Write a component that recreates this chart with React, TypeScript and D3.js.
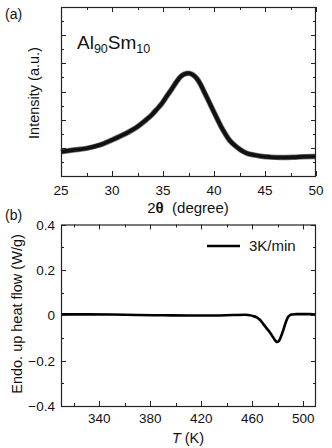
import React, { useRef, useEffect } from "react";
import * as d3 from "d3";

// (a) XRD pattern
const xrdAngle = [25, 26.2, 27.5, 28.8, 30, 31.2, 32.5, 33.2, 33.9, 34.4, 34.9, 35.4, 35.9, 36.3, 36.7, 37.1, 37.5, 37.9, 38.3, 38.7, 39.1, 39.5, 39.9, 40.3, 40.7, 41.1, 41.5, 42.0, 42.4, 42.8, 43.2, 44.0, 44.8, 45.6, 46.5, 48, 49.7, 50];
const xrdIntensity = [0.86, 0.92, 0.98, 1.1, 1.28, 1.48, 1.75, 1.95, 2.17, 2.37, 2.58, 2.85, 3.11, 3.33, 3.52, 3.62, 3.65, 3.6, 3.47, 3.24, 2.94, 2.64, 2.34, 2.04, 1.75, 1.5, 1.28, 1.1, 0.98, 0.88, 0.81, 0.74, 0.69, 0.67, 0.66, 0.67, 0.69, 0.69];
const xrdTicks = [25, 30, 35, 40, 45, 50];

// (b) DSC trace at 3 K/min
const dscTemp = [310, 330, 350, 370, 390, 410, 430, 445, 455, 458.2, 461, 463.5, 466, 468.7, 471.3, 473.3, 475.2, 477, 478.6, 479.5, 480.4, 481.8, 483, 484.3, 485.6, 486.9, 488.2, 489.5, 490.9, 495, 500, 505, 510];
const dscFlow = [0.004, 0.004, 0.003, 0.001, 0.0, -0.001, -0.001, 0.001, 0.002, 0.0, -0.004, -0.009, -0.02, -0.039, -0.058, -0.072, -0.087, -0.103, -0.115, -0.118, -0.116, -0.104, -0.087, -0.066, -0.043, -0.022, -0.007, 0.0, 0.003, 0.005, 0.005, 0.005, 0.003];
const dscXTicks = [340, 380, 420, 460, 500];
const dscYTicks = [0.4, 0.2, 0, -0.2, -0.4];
const legendLabel = "3K/min";

const W = 332;
const H = 448;
const FONT = "'Liberation Sans', Arial, sans-serif";

const App = () => {
  const svgRef = useRef<SVGSVGElement>(null);

  useEffect(() => {
    const svg = d3.select(svgRef.current);
    svg.selectAll("*").remove();
    svg.append("rect").attr("width", W).attr("height", H).attr("fill", "#fff");

    const frameLeft = 61;
    const frameRight = 316;

    // inward ticks on all four sides
    const drawTicks = (
      x: d3.ScaleLinear<number, number>,
      y: d3.ScaleLinear<number, number>,
      xMajor: number[],
      xMinor: number[],
      yMajor: number[],
      yMinor: number[]
    ) => {
      const [x0, x1] = x.range();
      const [y0, y1] = y.range();
      const g = svg.append("g").attr("stroke", "#222").attr("stroke-width", 1);
      xMajor.concat(xMinor).forEach((v) => {
        const len = xMajor.includes(v) ? 5 : 3;
        const px = Math.round(x(v)) + 0.5;
        g.append("line").attr("x1", px).attr("x2", px).attr("y1", y0).attr("y2", y0 - len);
        g.append("line").attr("x1", px).attr("x2", px).attr("y1", y1).attr("y2", y1 + len);
      });
      yMajor.concat(yMinor).forEach((v) => {
        const len = yMajor.includes(v) ? 5 : 3;
        const py = Math.round(y(v)) + 0.5;
        g.append("line").attr("x1", x0).attr("x2", x0 + len).attr("y1", py).attr("y2", py);
        g.append("line").attr("x1", x1).attr("x2", x1 - len).attr("y1", py).attr("y2", py);
      });
      svg
        .append("rect")
        .attr("x", x0 + 0.5)
        .attr("y", y1 + 0.5)
        .attr("width", x1 - x0 - 1)
        .attr("height", y0 - y1)
        .attr("fill", "none")
        .attr("stroke", "#222")
        .attr("stroke-width", 1.2);
    };

    // ---------- panel (a)
    const xA = d3.scaleLinear().domain([25, 50]).range([frameLeft, frameRight]);
    const yA = d3.scaleLinear().domain([0, 6]).range([176, 7]);

    const lineA = d3
      .line<number>()
      .x((d, i) => xA(xrdAngle[i]))
      .y((d) => yA(d))
      .curve(d3.curveMonotoneX);
    // noisy band drawn as a thick stroke with a soft grey edge
    svg
      .append("path")
      .attr("d", lineA(xrdIntensity))
      .attr("fill", "none")
      .attr("stroke", "#777")
      .attr("stroke-width", 5.5)
      .attr("stroke-linejoin", "round");
    svg
      .append("path")
      .attr("d", lineA(xrdIntensity))
      .attr("fill", "none")
      .attr("stroke", "#111")
      .attr("stroke-width", 4)
      .attr("stroke-linejoin", "round");

    drawTicks(
      xA,
      yA,
      xrdTicks,
      d3.range(27.5, 50, 5),
      d3.range(0, 6.01, 1),
      d3.range(0.5, 6, 1)
    );

    xrdTicks.forEach((t) => {
      svg
        .append("text")
        .attr("x", xA(t))
        .attr("y", 194.5)
        .attr("text-anchor", "middle")
        .attr("font-family", FONT)
        .attr("font-size", 13.5)
        .attr("fill", "#111")
        .text(t);
    });

    const xLabelA = svg
      .append("text")
      .attr("x", 188)
      .attr("y", 213)
      .attr("text-anchor", "middle")
      .attr("font-family", FONT)
      .attr("font-size", 15)
      .attr("fill", "#111")
      .style("white-space", "pre");
    xLabelA.append("tspan").text("2");
    xLabelA.append("tspan").attr("font-weight", "bold").text("θ");
    xLabelA.append("tspan").text("  (degree)");

    svg
      .append("text")
      .attr("transform", "translate(39,93) rotate(-90)")
      .attr("text-anchor", "middle")
      .attr("font-family", FONT)
      .attr("font-size", 14.5)
      .attr("fill", "#111")
      .text("Intensity (a.u.)");

    const formula = svg
      .append("text")
      .attr("x", 77)
      .attr("y", 49)
      .attr("font-family", FONT)
      .attr("font-size", 19)
      .attr("fill", "#111");
    formula.append("tspan").text("Al");
    formula.append("tspan").attr("font-size", 12.5).attr("dy", 4).text("90");
    formula.append("tspan").attr("dy", -4).text("Sm");
    formula.append("tspan").attr("font-size", 12.5).attr("dy", 4).text("10");

    svg
      .append("text")
      .attr("x", 5)
      .attr("y", 19)
      .attr("font-family", FONT)
      .attr("font-size", 14)
      .attr("fill", "#111")
      .text("(a)");

    // ---------- panel (b)
    const xB = d3.scaleLinear().domain([310, 510]).range([frameLeft, frameRight]);
    const yB = d3.scaleLinear().domain([-0.4, 0.4]).range([406, 224.5]);

    const lineB = d3
      .line<number>()
      .x((d, i) => xB(dscTemp[i]))
      .y((d) => yB(d))
      .curve(d3.curveMonotoneX);
    svg
      .append("path")
      .attr("d", lineB(dscFlow))
      .attr("fill", "none")
      .attr("stroke", "#000")
      .attr("stroke-width", 2.6)
      .attr("stroke-linejoin", "round");

    drawTicks(
      xB,
      yB,
      dscXTicks,
      d3.range(320, 510, 40),
      dscYTicks,
      d3.range(-0.3, 0.4, 0.2)
    );

    dscXTicks.forEach((t) => {
      svg
        .append("text")
        .attr("x", xB(t))
        .attr("y", 423)
        .attr("text-anchor", "middle")
        .attr("font-family", FONT)
        .attr("font-size", 13.5)
        .attr("fill", "#111")
        .text(t);
    });
    dscYTicks.forEach((t) => {
      svg
        .append("text")
        .attr("x", 55)
        .attr("y", yB(t) + 5)
        .attr("text-anchor", "end")
        .attr("font-family", FONT)
        .attr("font-size", 13.5)
        .attr("fill", "#111")
        .text(t === 0 ? "0" : d3.format(".1f")(t).replace("-", "\u2212"));
    });

    const tLabel = svg
      .append("text")
      .attr("x", 188)
      .attr("y", 443)
      .attr("text-anchor", "middle")
      .attr("font-family", FONT)
      .attr("font-size", 14.5)
      .attr("fill", "#111");
    tLabel.append("tspan").attr("font-style", "italic").text("T");
    tLabel.append("tspan").text(" (K)");

    svg
      .append("text")
      .attr("transform", "translate(22,314) rotate(-90)")
      .attr("text-anchor", "middle")
      .attr("font-family", FONT)
      .attr("font-size", 14.5)
      .attr("fill", "#111")
      .text("Endo. up heat flow (W/g)");

    svg
      .append("text")
      .attr("x", 5)
      .attr("y", 220)
      .attr("font-family", FONT)
      .attr("font-size", 14)
      .attr("fill", "#111")
      .text("(b)");

    // legend
    svg
      .append("line")
      .attr("x1", 207)
      .attr("x2", 240)
      .attr("y1", 246)
      .attr("y2", 246)
      .attr("stroke", "#000")
      .attr("stroke-width", 2.6);
    svg
      .append("text")
      .attr("x", 249)
      .attr("y", 251)
      .attr("font-family", FONT)
      .attr("font-size", 15)
      .attr("fill", "#111")
      .text(legendLabel);
  }, []);

  return (
    <svg
      ref={svgRef}
      width={W}
      height={H}
      style={{ position: "absolute", left: 0, top: 0 }}
    />
  );
};

export default App;
